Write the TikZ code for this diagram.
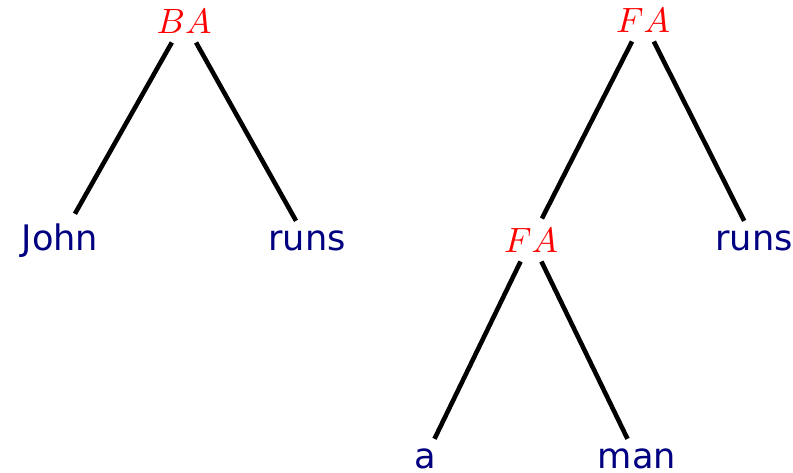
\documentclass[tikz,border=0pt]{standalone}
\usepackage{fontspec}
\usepackage{tikz}
\newfontfamily\leaffont{DejaVu Sans}
\definecolor{leafblue}{RGB}{0,0,128}

\begin{document}
\begin{tikzpicture}[x=0.01cm,y=-0.01cm,
  comb/.style={text=red,inner sep=2.5pt,anchor=base,font=\fontsize{10}{12}\selectfont},
  leaf/.style={text=leafblue,inner sep=2.5pt,anchor=base,font=\fontsize{10}{12}\selectfont\leaffont},
  branch/.style={line width=1.3pt}]
  \useasboundingbox (0,0) rectangle (793,472);
  % John runs
  \node[comb] (ba) at (184,33) {$BA$};
  \node[leaf] (john) at (60,250) {John};
  \node[leaf] (runsa) at (307,250) {runs};
  \draw[branch] (ba) -- (john);
  \draw[branch] (ba) -- (runsa);
  % a man runs
  \node[comb] (fatop) at (643,32) {$FA$};
  \node[comb] (famid) at (531,252) {$FA$};
  \node[leaf] (runsb) at (754,250) {runs};
  \node[leaf] (a) at (425,468) {a};
  \node[leaf] (man) at (637,468) {man};
  \draw[branch] (fatop) -- (famid);
  \draw[branch] (fatop) -- (runsb);
  \draw[branch] (famid) -- (a);
  \draw[branch] (famid) -- (man);
\end{tikzpicture}
\end{document}
